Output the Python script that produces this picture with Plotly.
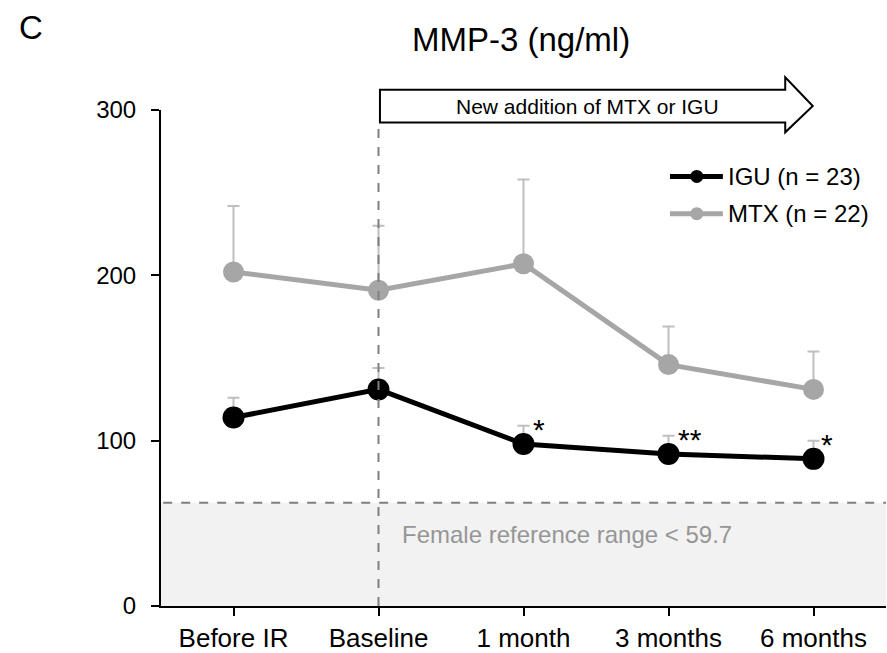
import plotly.graph_objects as go

categories = ["Before IR", "Baseline", "1 month", "3 months", "6 months"]
igu_values = [114, 131, 98, 92, 89]
igu_errors = [12, 13, 11, 11, 11]
mtx_values = [202, 191, 207, 146, 131]
mtx_errors = [40, 39, 51, 23, 23]
y_ticks = [0, 100, 200, 300]
reference_label = "Female reference range < 59.7"
reference_line = 62.5
significance = ["", "", "*", "**", "*"]
sig_xshift = [0, 0, 15, 21, 13]

FONT = "Arial, Liberation Sans, sans-serif"
xpos = list(range(len(categories)))

fig = go.Figure()

fig.add_trace(go.Scatter(
    x=xpos, y=mtx_values, mode="lines+markers", name="MTX (n = 22)",
    line=dict(color="#a6a6a6", width=5),
    marker=dict(color="#a6a6a6", size=21),
    error_y=dict(type="data", symmetric=False, array=mtx_errors,
                 arrayminus=[0] * len(mtx_errors), color="#bfbfbf",
                 thickness=2, width=6),
    showlegend=False,
))
fig.add_trace(go.Scatter(
    x=xpos, y=igu_values, mode="lines+markers", name="IGU (n = 23)",
    line=dict(color="#000000", width=5),
    marker=dict(color="#000000", size=22),
    error_y=dict(type="data", symmetric=False, array=igu_errors,
                 arrayminus=[0] * len(igu_errors), color="#bfbfbf",
                 thickness=2, width=6),
    showlegend=False,
))

shapes = []
# reference range band
shapes.append(dict(type="rect", xref="paper", yref="y", x0=0, x1=1, y0=0, y1=reference_line,
                   fillcolor="#f2f2f2", line=dict(width=0), layer="below"))
shapes.append(dict(type="line", xref="paper", yref="y", x0=0.003, x1=1.0, y0=reference_line, y1=reference_line,
                   line=dict(color="#7f7f7f", width=2, dash="dash"), layer="above"))
# vertical dashed line at baseline
shapes.append(dict(type="line", xref="x", yref="paper", x0=1, x1=1, y0=0, y1=0.975,
                   line=dict(color="#7f7f7f", width=2, dash="dash"), layer="above"))
# arrow
x_l, x_h, x_t = 0.302, 0.861, 0.899
y_st, y_sb, y_ht, y_hb, y_m = 1.041, 0.975, 1.066, 0.955, 1.008
path = (f"M{x_l},{y_sb} L{x_h},{y_sb} L{x_h},{y_hb} L{x_t},{y_m} "
        f"L{x_h},{y_ht} L{x_h},{y_st} L{x_l},{y_st} Z")
shapes.append(dict(type="path", xref="paper", yref="paper", path=path,
                   fillcolor="white", line=dict(color="black", width=2)))

# manual legend
leg = [("IGU (n = 23)", "#000000", 0.866), ("MTX (n = 22)", "#a6a6a6", 0.791)]
rx, ry = 6.5 / 725, 6.5 / 496
for name, col, ly in leg:
    shapes.append(dict(type="line", xref="paper", yref="paper", x0=0.702, x1=0.775, y0=ly, y1=ly,
                       line=dict(color=col, width=5)))
    shapes.append(dict(type="circle", xref="paper", yref="paper", x0=0.739 - rx, x1=0.739 + rx,
                       y0=ly - ry, y1=ly + ry, fillcolor=col, line=dict(color=col, width=0)))

annotations = []
for name, col, ly in leg:
    annotations.append(dict(text=name, xref="paper", yref="paper", x=0.779, y=ly, xanchor="left",
                            yanchor="middle", showarrow=False, font=dict(size=24, color="black", family=FONT)))

for i, s in enumerate(significance):
    if s:
        annotations.append(dict(text=s, xref="x", yref="y", x=xpos[i], y=igu_values[i] + igu_errors[i],
                                xanchor="center", yanchor="middle", xshift=sig_xshift[i], yshift=-4,
                                showarrow=False, font=dict(size=30, color="black", family=FONT)))

annotations.append(dict(text=reference_label, xref="paper", yref="paper", x=0.33, y=0.145,
                        xanchor="left", yanchor="middle", showarrow=False,
                        font=dict(size=24, color="#969696", family=FONT)))
annotations.append(dict(text="New addition of MTX or IGU", xref="paper", yref="paper", x=0.588, y=1.008,
                        xanchor="center", yanchor="middle", showarrow=False,
                        font=dict(size=21, color="black", family=FONT)))
annotations.append(dict(text="MMP-3 (ng/ml)", xref="paper", yref="paper", x=0.497, y=1.142,
                        xanchor="center", yanchor="middle", showarrow=False,
                        font=dict(size=33, color="black", family=FONT)))
annotations.append(dict(text="C", xref="paper", yref="paper", x=-0.199, y=1.166,
                        xanchor="left", yanchor="middle", showarrow=False,
                        font=dict(size=33, color="black", family=FONT)))

fig.update_layout(
    width=887, height=653,
    margin=dict(l=161, r=1, t=110, b=47),
    paper_bgcolor="white", plot_bgcolor="white",
    shapes=shapes, annotations=annotations,
    showlegend=False,
    font=dict(family=FONT, color="black"),
)
fig.update_xaxes(range=[-0.5, 4.5], tickvals=xpos, ticktext=categories, showgrid=False,
                 showline=True, linecolor="black", linewidth=2, ticks="outside", ticklen=8,
                 tickwidth=2, tickcolor="black", tickfont=dict(size=26), zeroline=False)
fig.update_yaxes(range=[0, 300], tickvals=y_ticks, showgrid=False, showline=True,
                 linecolor="black", linewidth=2, ticks="outside", ticklen=8, tickwidth=2,
                 tickcolor="black", tickfont=dict(size=24), zeroline=False, ticklabelstandoff=10)

fig.write_html("out.html")
